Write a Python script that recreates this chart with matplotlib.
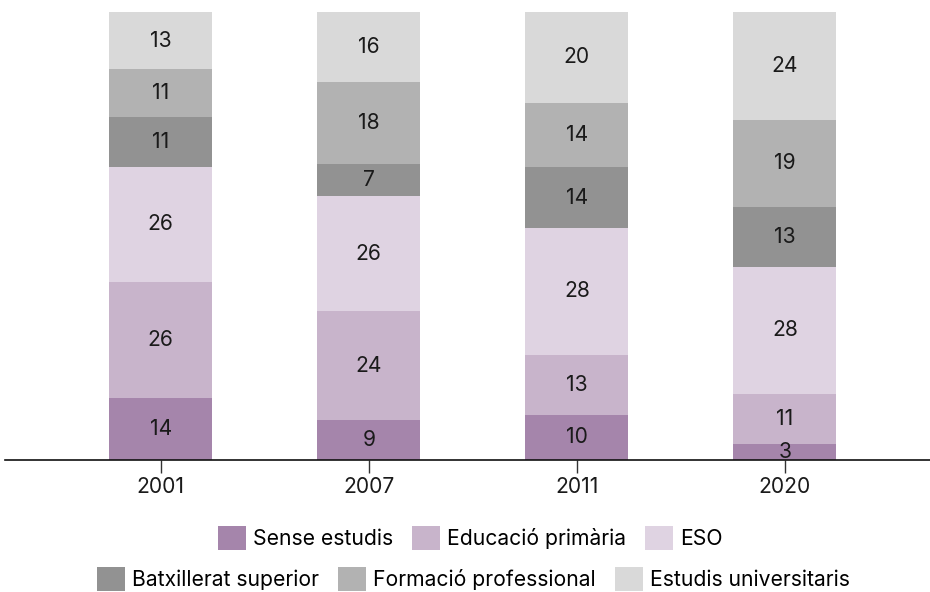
import numpy as np
import matplotlib
matplotlib.use("Agg")
import matplotlib.pyplot as plt
from matplotlib.patches import Patch

plt.rcParams['font.family'] = ['Inter', 'DejaVu Sans']

years = ['2001', '2007', '2011', '2020']
series = ['Sense estudis', 'Educació primària', 'ESO',
          'Batxillerat superior', 'Formació professional', 'Estudis universitaris']

# percentages per level (bottom to top)
sense = [13.8, 8.8, 10.0, 3.4]
primaria = [25.9, 24.4, 13.4, 11.3]
eso = [25.7, 25.6, 28.3, 28.4]
batx = [11.2, 7.2, 13.6, 13.4]
fp = [10.6, 18.4, 14.4, 19.3]
univ = [12.8, 15.6, 20.3, 24.2]

labels_sense = [14, 9, 10, 3]
labels_primaria = [26, 24, 13, 11]
labels_eso = [26, 26, 28, 28]
labels_batx = [11, 7, 14, 13]
labels_fp = [11, 18, 14, 19]
labels_univ = [13, 16, 20, 24]

colors = ['#a585ab', '#c8b4cb', '#dfd3e2', '#929292', '#b2b2b2', '#d9d9d9']

data = [sense, primaria, eso, batx, fp, univ]
labels = [labels_sense, labels_primaria, labels_eso, labels_batx, labels_fp, labels_univ]

fs = 15.2

fig = plt.figure(figsize=(9.3, 5.92), dpi=100)
ax = fig.add_axes([0.005, 0.2238, 0.995, 0.7559])

x = np.arange(len(years))
bottom = np.zeros(len(years))
for vals, labs, col in zip(data, labels, colors):
    vals = np.array(vals)
    ax.bar(x, vals, width=0.495, bottom=bottom, color=col, linewidth=0)
    for xi, b, v, lab in zip(x, bottom, vals, labs):
        ax.text(xi, b + v / 2, str(lab), ha='center', va='center',
                fontsize=fs, color='#1a1a1a')
    bottom += vals

ax.set_xlim(-0.75, 3.697)
ax.set_ylim(0, 100)
for s in ['top', 'right', 'left']:
    ax.spines[s].set_visible(False)
ax.spines['bottom'].set_linewidth(1.2)
ax.spines['bottom'].set_color('#111111')
ax.set_yticks([])
ax.set_xticks(x)
ax.set_xticklabels(years, fontsize=fs, color='#1a1a1a')
ax.tick_params(axis='x', length=9, width=1, color='#333333', pad=3.5)

handles = [Patch(facecolor=c, edgecolor='none') for c in colors]
leg_kw = dict(loc='center', ncol=3, frameon=False, fontsize=fs,
              handlelength=1.33, handleheight=1.33, handletextpad=0.33,
              columnspacing=0.9, borderpad=0, borderaxespad=0)
leg1 = fig.legend(handles[:3], series[:3], bbox_to_anchor=(0.506, 0.091), **leg_kw)
leg2 = fig.legend(handles[3:], series[3:], bbox_to_anchor=(0.509, 0.022), **leg_kw)

fig.savefig('out.png', dpi=100)
